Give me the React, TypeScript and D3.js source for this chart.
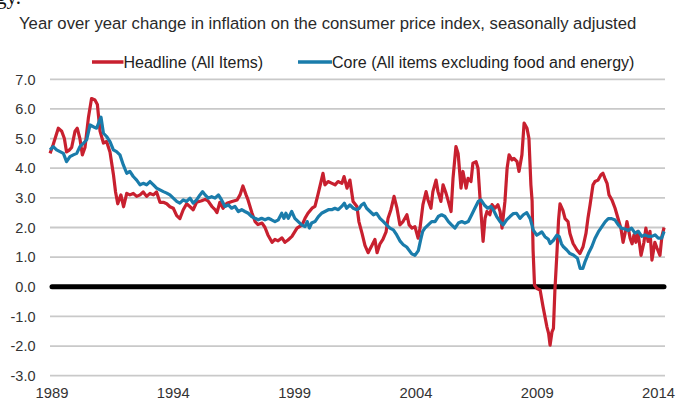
import React, { useEffect, useRef } from 'react';
import * as d3 from 'd3';

// [decimal year, % change y/y]
const headline: [number, number][] = [
  [1988.92, 4.5], [1989.05, 4.8], [1989.26, 5.35], [1989.4, 5.25], [1989.51, 5.0], [1989.6, 4.55], [1989.7, 4.6],
  [1989.81, 4.7], [1989.95, 5.25], [1990.04, 5.35], [1990.15, 5.0], [1990.25, 4.45], [1990.36, 4.7], [1990.5, 5.7],
  [1990.63, 6.35], [1990.77, 6.3], [1990.87, 6.15], [1990.98, 5.25], [1991.12, 4.85], [1991.25, 4.9], [1991.39, 4.55],
  [1991.53, 3.8], [1991.62, 3.2], [1991.71, 2.8], [1991.84, 3.1], [1991.95, 2.7], [1992.08, 3.15], [1992.21, 3.1],
  [1992.35, 3.15], [1992.49, 3.05], [1992.63, 3.1], [1992.76, 3.2], [1992.9, 3.05], [1993.04, 3.15], [1993.18, 3.1],
  [1993.31, 3.2], [1993.45, 2.85], [1993.59, 2.85], [1993.73, 2.8], [1993.86, 2.7], [1994.0, 2.65], [1994.14, 2.4],
  [1994.27, 2.3], [1994.41, 2.6], [1994.55, 2.8], [1994.69, 2.7], [1994.82, 2.6], [1994.96, 2.85], [1995.17, 2.9],
  [1995.31, 2.95], [1995.43, 2.9], [1995.6, 2.7], [1995.72, 2.6], [1995.8, 2.5], [1995.92, 2.85], [1996.05, 2.65],
  [1996.21, 2.82], [1996.42, 2.88], [1996.63, 2.93], [1996.75, 3.1], [1996.87, 3.4], [1997.0, 3.1], [1997.08, 2.93],
  [1997.24, 2.5], [1997.37, 2.2], [1997.49, 2.1], [1997.66, 2.15], [1997.78, 2.0], [1997.9, 1.75], [1998.07, 1.5],
  [1998.19, 1.6], [1998.32, 1.55], [1998.48, 1.65], [1998.6, 1.5], [1998.73, 1.58], [1998.89, 1.7], [1999.1, 1.98],
  [1999.31, 2.09], [1999.43, 2.31], [1999.55, 2.48], [1999.72, 2.65], [1999.84, 2.71], [1999.96, 3.1], [2000.09, 3.55],
  [2000.17, 3.83], [2000.25, 3.44], [2000.38, 3.55], [2000.54, 3.49], [2000.67, 3.44], [2000.79, 3.55], [2000.95, 3.49],
  [2001.04, 3.72], [2001.16, 3.33], [2001.28, 3.6], [2001.41, 2.88], [2001.57, 2.71], [2001.65, 2.2], [2001.78, 1.8],
  [2001.9, 1.4], [2002.03, 1.15], [2002.19, 1.4], [2002.31, 1.6], [2002.4, 1.15], [2002.52, 1.45], [2002.64, 1.6],
  [2002.77, 1.85], [2002.85, 2.3], [2002.97, 2.6], [2003.1, 3.05], [2003.22, 2.65], [2003.34, 2.09], [2003.47, 2.2],
  [2003.63, 2.43], [2003.72, 2.09], [2003.84, 1.98], [2003.96, 2.03], [2004.09, 1.64], [2004.17, 1.98], [2004.29, 2.77],
  [2004.42, 3.21], [2004.5, 2.93], [2004.62, 2.65], [2004.7, 3.21], [2004.83, 3.6], [2004.91, 3.21], [2005.03, 2.88],
  [2005.12, 3.44], [2005.24, 3.16], [2005.32, 2.93], [2005.45, 2.54], [2005.53, 3.66], [2005.65, 4.73], [2005.74, 4.5],
  [2005.86, 3.33], [2005.94, 3.89], [2006.07, 3.33], [2006.15, 3.66], [2006.27, 3.55], [2006.35, 4.17], [2006.48, 4.22],
  [2006.56, 4.0], [2006.68, 2.54], [2006.77, 1.53], [2006.85, 2.31], [2006.93, 2.54], [2007.05, 2.43], [2007.14, 2.77],
  [2007.26, 2.65], [2007.38, 2.77], [2007.47, 2.54], [2007.55, 1.98], [2007.67, 2.88], [2007.76, 4.0], [2007.84, 4.45],
  [2007.96, 4.28], [2008.04, 4.33], [2008.17, 4.22], [2008.25, 3.89], [2008.37, 4.45], [2008.46, 5.52], [2008.58, 5.35],
  [2008.66, 5.0], [2008.74, 3.44], [2008.79, 2.9], [2008.83, 1.24], [2008.89, 0.05], [2008.99, -0.06], [2009.12, -0.11],
  [2009.24, -0.67], [2009.4, -1.35], [2009.47, -1.57], [2009.53, -1.97], [2009.61, -1.52], [2009.67, -1.4], [2009.73, -0.11],
  [2009.82, 1.24], [2009.88, 2.25], [2009.94, 2.8], [2010.06, 2.58], [2010.15, 2.3], [2010.27, 2.2], [2010.35, 1.8],
  [2010.48, 1.46], [2010.64, 1.24], [2010.76, 1.12], [2010.89, 1.35], [2011.01, 1.8], [2011.09, 2.3], [2011.18, 2.77],
  [2011.3, 3.44], [2011.38, 3.55], [2011.51, 3.6], [2011.63, 3.78], [2011.71, 3.83], [2011.79, 3.66], [2011.88, 3.49],
  [2011.96, 3.1], [2012.08, 2.93], [2012.21, 2.65], [2012.33, 2.31], [2012.45, 1.98], [2012.54, 1.5], [2012.62, 1.8],
  [2012.7, 2.2], [2012.83, 1.64], [2012.91, 1.45], [2012.99, 1.75], [2013.07, 1.5], [2013.15, 1.87], [2013.28, 1.06],
  [2013.4, 1.5], [2013.48, 1.98], [2013.57, 1.53], [2013.65, 1.87], [2013.73, 0.9], [2013.85, 1.5], [2013.94, 1.3],
  [2014.06, 1.06], [2014.14, 1.7], [2014.23, 2.0],
];

const core: [number, number][] = [
  [1988.92, 4.62], [1989.05, 4.73], [1989.19, 4.62], [1989.33, 4.56], [1989.47, 4.5], [1989.6, 4.22], [1989.74, 4.39],
  [1989.88, 4.45], [1990.02, 4.5], [1990.15, 4.73], [1990.29, 4.84], [1990.43, 4.96], [1990.57, 5.46], [1990.7, 5.4],
  [1990.84, 5.35], [1990.94, 5.57], [1991.02, 5.72], [1991.12, 5.18], [1991.25, 5.07], [1991.39, 4.9], [1991.53, 4.62],
  [1991.66, 4.56], [1991.8, 4.45], [1991.94, 4.11], [1992.08, 3.83], [1992.21, 3.89], [1992.35, 3.72], [1992.49, 3.6],
  [1992.63, 3.44], [1992.76, 3.49], [1992.9, 3.44], [1993.04, 3.55], [1993.18, 3.44], [1993.31, 3.33], [1993.45, 3.27],
  [1993.59, 3.21], [1993.73, 3.16], [1993.86, 3.1], [1994.0, 2.99], [1994.14, 2.88], [1994.27, 2.82], [1994.41, 2.93],
  [1994.55, 2.88], [1994.69, 2.99], [1994.82, 2.82], [1994.96, 2.93], [1995.1, 3.1], [1995.21, 3.21], [1995.31, 3.1],
  [1995.44, 2.99], [1995.58, 3.04], [1995.72, 2.99], [1995.86, 3.1], [1995.99, 2.93], [1996.13, 2.71], [1996.27, 2.76],
  [1996.4, 2.65], [1996.54, 2.71], [1996.68, 2.54], [1996.82, 2.6], [1996.95, 2.54], [1997.09, 2.48], [1997.23, 2.37],
  [1997.37, 2.31], [1997.5, 2.26], [1997.64, 2.31], [1997.78, 2.26], [1997.92, 2.31], [1998.05, 2.26], [1998.19, 2.2],
  [1998.33, 2.26], [1998.47, 2.48], [1998.56, 2.31], [1998.64, 2.48], [1998.74, 2.31], [1998.88, 2.54], [1999.01, 2.31],
  [1999.15, 2.2], [1999.29, 2.09], [1999.43, 2.03], [1999.52, 2.2], [1999.61, 1.98], [1999.7, 2.15], [1999.84, 2.2],
  [1999.98, 2.37], [2000.11, 2.48], [2000.25, 2.54], [2000.39, 2.6], [2000.53, 2.6], [2000.66, 2.65], [2000.8, 2.6],
  [2000.94, 2.71], [2001.05, 2.82], [2001.14, 2.65], [2001.28, 2.76], [2001.42, 2.65], [2001.56, 2.6], [2001.67, 2.65],
  [2001.76, 2.76], [2001.86, 2.82], [2001.97, 2.65], [2002.11, 2.54], [2002.25, 2.43], [2002.38, 2.48], [2002.52, 2.31],
  [2002.66, 2.2], [2002.79, 2.09], [2002.93, 1.98], [2003.07, 1.92], [2003.21, 1.75], [2003.34, 1.55], [2003.48, 1.42],
  [2003.62, 1.34], [2003.83, 1.11], [2003.96, 1.06], [2004.1, 1.22], [2004.2, 1.6], [2004.28, 1.87], [2004.37, 1.98],
  [2004.51, 2.09], [2004.65, 2.2], [2004.79, 2.2], [2004.92, 2.37], [2005.06, 2.43], [2005.2, 2.37], [2005.34, 2.2],
  [2005.47, 2.09], [2005.61, 1.98], [2005.75, 2.15], [2005.89, 2.2], [2006.02, 2.15], [2006.16, 2.2], [2006.3, 2.43],
  [2006.43, 2.65], [2006.57, 2.88], [2006.68, 2.93], [2006.82, 2.76], [2006.96, 2.65], [2007.09, 2.71], [2007.19, 2.6],
  [2007.33, 2.37], [2007.47, 2.2], [2007.6, 2.09], [2007.74, 2.26], [2007.88, 2.37], [2008.02, 2.47], [2008.15, 2.48],
  [2008.29, 2.31], [2008.43, 2.43], [2008.57, 2.5], [2008.71, 2.3], [2008.84, 1.91], [2008.98, 1.74], [2009.1, 1.8],
  [2009.19, 1.85], [2009.32, 1.69], [2009.46, 1.6], [2009.53, 1.46], [2009.67, 1.57], [2009.81, 1.74], [2009.91, 1.69],
  [2010.0, 1.45], [2010.08, 1.35], [2010.22, 1.24], [2010.35, 1.12], [2010.49, 1.07], [2010.66, 0.96], [2010.77, 0.62],
  [2010.88, 0.62], [2010.97, 0.84], [2011.11, 1.12], [2011.25, 1.35], [2011.38, 1.63], [2011.52, 1.85], [2011.66, 2.02],
  [2011.8, 2.19], [2011.93, 2.3], [2012.07, 2.3], [2012.21, 2.25], [2012.35, 2.08], [2012.48, 1.97], [2012.62, 1.95],
  [2012.76, 1.9], [2012.89, 1.98], [2013.03, 1.81], [2013.17, 1.87], [2013.31, 1.7], [2013.44, 1.75], [2013.58, 1.7],
  [2013.72, 1.7], [2013.86, 1.75], [2013.99, 1.64], [2014.13, 1.64], [2014.23, 1.87],
];

const yTicks = [-3, -2, -1, 0, 1, 2, 3, 4, 5, 6, 7];
const xTickYears = [1989, 1994, 1999, 2004, 2009, 2014];

const seriesInfo = [
  { name: 'Headline (All Items)', color: '#c8202f', data: headline },
  { name: 'Core (All items excluding food and energy)', color: '#1a7cab', data: core },
];

const W = 676;
const H = 401;
const FONT = '"Liberation Sans", Arial, sans-serif';

export default function App() {
  const svgRef = useRef<SVGSVGElement>(null);

  useEffect(() => {
    if (!svgRef.current) return;
    const svg = d3.select(svgRef.current);
    svg.selectAll('*').remove();

    const plotLeft = 50;
    const plotRight = 665;

    const x = d3.scaleLinear().domain([1989, 2014]).range([52, 658.5]);
    const y = d3.scaleLinear().domain([-3, 7]).range([375.7, 79.3]);

    // cut-off text from the page above the chart
    svg.append('text')
      .attr('x', -4)
      .attr('y', 4)
      .style('font-family', '"Liberation Serif", serif')
      .style('font-size', '21px')
      .attr('fill', '#111')
      .text('gy.');

    svg.append('text')
      .attr('x', 19)
      .attr('y', 28.5)
      .style('font-family', FONT)
      .style('font-size', '16.7px')
      .attr('fill', '#2a2a2a')
      .text('Year over year change in inflation on the consumer price index, seasonally adjusted');

    // legend
    const legendPos = [{ x0: 92, tx: 123.5 }, { x0: 298, tx: 332 }];
    seriesInfo.forEach((s, i) => {
      const p = legendPos[i];
      svg.append('line')
        .attr('x1', p.x0).attr('x2', p.tx)
        .attr('y1', 62).attr('y2', 62)
        .attr('stroke', s.color)
        .attr('stroke-width', 3.5);
      svg.append('text')
        .attr('x', p.tx)
        .attr('y', 68)
        .style('font-family', FONT)
        .style('font-size', '16px')
        .attr('fill', '#222')
        .text(s.name);
    });

    // gridlines
    svg.append('g')
      .selectAll('line')
      .data(yTicks.filter(d => d !== 0))
      .join('line')
      .attr('x1', plotLeft).attr('x2', plotRight)
      .attr('y1', d => y(d)).attr('y2', d => y(d))
      .attr('stroke', '#c9c9c9')
      .attr('stroke-width', 1.8);

    // y labels
    svg.append('g')
      .selectAll('text')
      .data(yTicks)
      .join('text')
      .attr('x', 35.5)
      .attr('y', d => y(d) + 5.2)
      .attr('text-anchor', 'end')
      .style('font-family', FONT)
      .style('font-size', '14.5px')
      .attr('fill', '#333')
      .text(d => d.toFixed(1));

    // x labels
    svg.append('g')
      .selectAll('text')
      .data(xTickYears)
      .join('text')
      .attr('x', d => x(d))
      .attr('y', 397.5)
      .attr('text-anchor', 'middle')
      .style('font-family', FONT)
      .style('font-size', '14.8px')
      .attr('fill', '#333')
      .text(d => String(d));

    // zero line
    svg.append('line')
      .attr('x1', plotLeft + 2).attr('x2', plotRight - 1)
      .attr('y1', y(0)).attr('y2', y(0))
      .attr('stroke', '#000')
      .attr('stroke-width', 5)
      .attr('stroke-linecap', 'round');

    const line = d3.line<[number, number]>()
      .x(d => x(d[0]))
      .y(d => y(d[1]));

    seriesInfo.forEach(s => {
      svg.append('path')
        .datum(s.data)
        .attr('fill', 'none')
        .attr('stroke', s.color)
        .attr('stroke-width', 3.2)
        .attr('stroke-linejoin', 'round')
        .attr('d', line);
    });
  }, []);

  return (
    <div style={{ position: 'absolute', left: 0, top: 0 }}>
      <svg ref={svgRef} width={W} height={H} style={{ display: 'block', background: '#fff' }} />
    </div>
  );
}
